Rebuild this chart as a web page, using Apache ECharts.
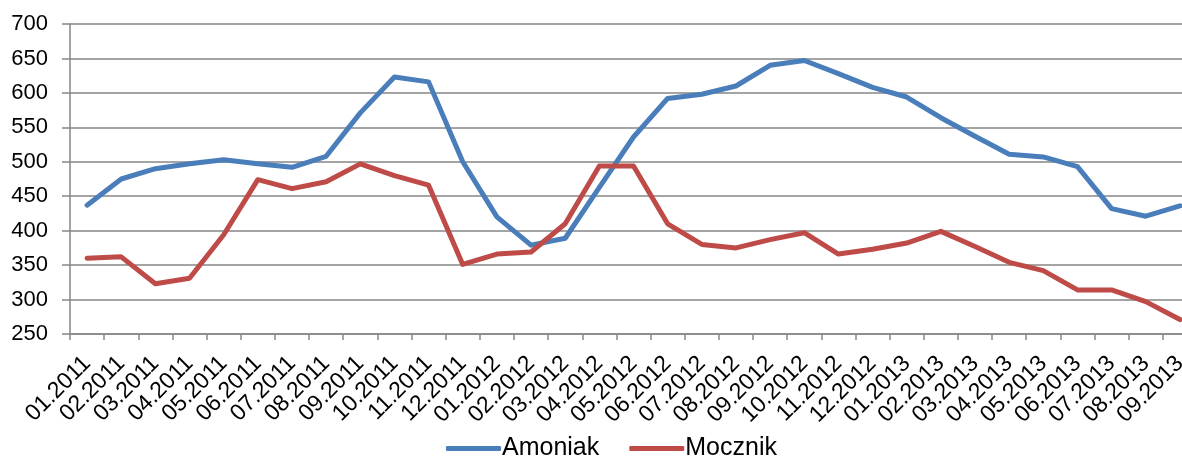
<!DOCTYPE html>
<html>
<head>
<meta charset="utf-8">
<script src="https://cdn.jsdelivr.net/npm/echarts@6/dist/echarts.min.js"></script>
<style>
html,body{margin:0;padding:0;background:#fff;}
#chart{width:1182px;height:457px;}
</style>
</head>
<body>
<div id="chart"></div>
<script>
const categories = ['01.2011','02.2011','03.2011','04.2011','05.2011','06.2011','07.2011','08.2011','09.2011','10.2011','11.2011','12.2011',
  '01.2012','02.2012','03.2012','04.2012','05.2012','06.2012','07.2012','08.2012','09.2012','10.2012','11.2012','12.2012',
  '01.2013','02.2013','03.2013','04.2013','05.2013','06.2013','07.2013','08.2013','09.2013'];
const amoniak = [437,475,490,497,503,497,492,508,571,623,616,500,
  420,379,389,463,536,592,598,610,640,647,628,608,
  594,564,537,511,507,493,432,421,436];
const mocznik = [360,362,323,331,394,474,461,471,497,480,466,351,
  366,369,410,494,494,410,380,375,387,397,366,373,
  382,399,377,354,342,314,314,297,271];
const yTicks = {min:250, max:700, interval:50};

const chart = echarts.init(document.getElementById('chart'), null, {renderer:'canvas'});
const font = '"Liberation Sans", Arial, sans-serif';
chart.setOption({
  animation:false,
  backgroundColor:'#fff',
  textStyle:{fontFamily:font},
  grid:{left:70, top:24, width:1127, height:310, containLabel:false, outerBoundsMode:'none'},
  legend:{
    top:431, left:441,
    data:['Amoniak','Mocznik'],
    icon:'roundRect', itemWidth:55, itemHeight:5, itemGap:30,
    textStyle:{fontSize:25, color:'#000', fontFamily:font, padding:[0,0,0,-4]}
  },
  xAxis:{
    type:'category', data:categories, boundaryGap:true,
    axisLine:{lineStyle:{color:'#868686', width:1.5}},
    axisTick:{show:true, length:6, interval:0, lineStyle:{color:'#868686', width:1.5}},
    axisLabel:{interval:0, rotate:45, fontSize:23, color:'#000', margin:26, fontFamily:font}
  },
  yAxis:{
    type:'value', min:yTicks.min, max:yTicks.max, interval:yTicks.interval,
    axisLine:{show:true, lineStyle:{color:'#868686', width:1.5}},
    axisTick:{show:true, length:8, lineStyle:{color:'#868686', width:1.5}},
    axisLabel:{fontSize:22, color:'#000', margin:22, fontFamily:font},
    splitLine:{show:true, lineStyle:{color:'#868686', width:1.5}}
  },
  series:[
    {name:'Amoniak', type:'line', data:amoniak, showSymbol:false, symbol:'none',
     lineStyle:{color:'#4A7EBB', width:5, cap:'round', join:'round'}, itemStyle:{color:'#4A7EBB'}},
    {name:'Mocznik', type:'line', data:mocznik, showSymbol:false, symbol:'none',
     lineStyle:{color:'#BE4B48', width:5, cap:'round', join:'round'}, itemStyle:{color:'#BE4B48'}}
  ]
});
</script>
</body>
</html>
